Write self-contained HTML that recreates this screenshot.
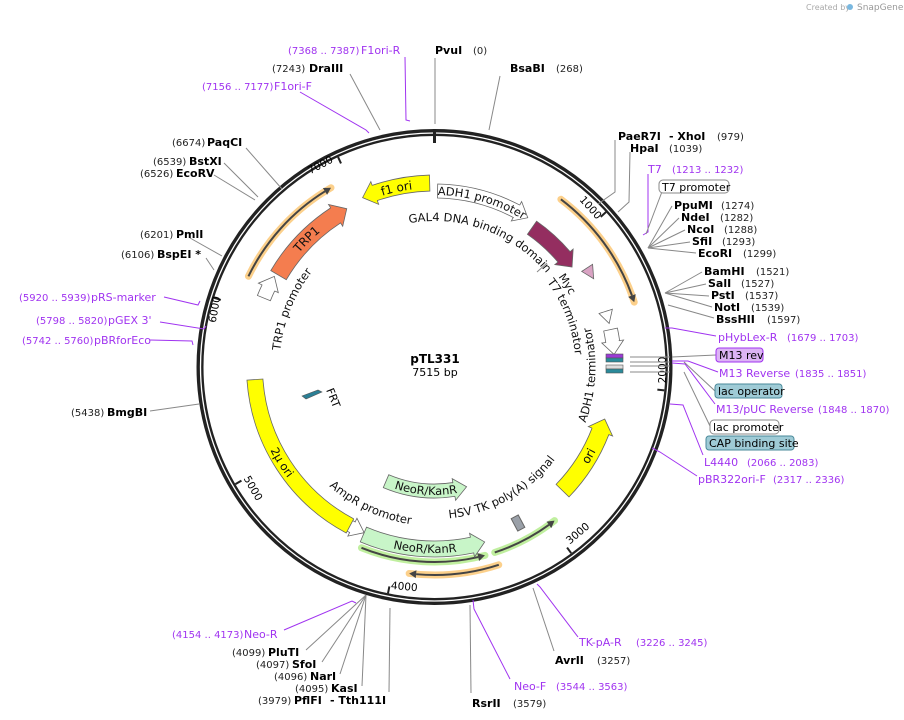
<!DOCTYPE html>
<html><head><meta charset="utf-8"><style>
body{margin:0;background:#fff;width:904px;height:720px;overflow:hidden}
svg{display:block;font-family:"DejaVu Sans","Liberation Sans",sans-serif}
.b{font-weight:bold;font-size:11px;fill:#000}
.n{font-size:10px;fill:#222}
.p{font-size:11px;fill:#a033f0}
.pn{font-size:10px;fill:#a033f0}
.f{font-size:11.5px;fill:#111}
.l{stroke:#888;stroke-width:1;fill:none}
.lp{stroke:#a033f0;stroke-width:1;fill:none}
</style></head><body>
<svg id="s" width="904" height="720" viewBox="0 0 904 720" xmlns="http://www.w3.org/2000/svg">
<defs id="d"></defs>
<text x="806" y="10" style="font-size:8px;fill:#aaa">Created by</text>
<text x="857" y="10" style="font-size:9px;fill:#999">SnapGene</text>
<circle cx="850" cy="7" r="3" fill="#7ab8e0"/>
<g id="g"></g>
<g>
<line class="l" x1="435" y1="58" x2="435" y2="124"/>
<line class="l" x1="500" y1="76" x2="489" y2="130"/>
<line class="l" x1="350" y1="74" x2="380" y2="130"/>
<polyline class="lp" points="405,57 406,120 410,121"/>
<polyline class="lp" points="300,92 366,130 369,133"/>
<line class="l" x1="246" y1="148" x2="282" y2="189"/>
<line class="l" x1="224" y1="163" x2="258" y2="197"/>
<line class="l" x1="214" y1="175" x2="255" y2="200"/>
<line class="l" x1="190" y1="238" x2="222" y2="256"/>
<line class="l" x1="206" y1="258" x2="214" y2="270"/>
<polyline class="lp" points="164,297 198,305 200,301"/>
<polyline class="lp" points="160,322 204,329 206,326"/>
<polyline class="lp" points="150,340 192,341 193,345"/>
<line class="l" x1="150" y1="411" x2="199" y2="404"/>
<polyline class="lp" points="284,630 352,601 356,603"/>
<line class="l" x1="306" y1="650" x2="366" y2="595"/>
<line class="l" x1="322" y1="662" x2="366" y2="595"/>
<line class="l" x1="340" y1="674" x2="366" y2="595"/>
<line class="l" x1="362" y1="686" x2="366" y2="595"/>
<line class="l" x1="389" y1="692" x2="390" y2="608"/>
<line class="l" x1="471" y1="693" x2="470" y2="605"/>
<polyline class="lp" points="510,679 474,609 473,600"/>
<line class="l" x1="554" y1="651" x2="533" y2="588"/>
<polyline class="lp" points="578,637 540,587 537,584"/>
<polyline class="l" points="615,140 615,192 598,204"/>
<polyline class="l" points="630,152 629,202 618,212"/>
<polyline class="lp" points="648,174 648,232 643,235"/>
<line class="l" x1="663" y1="189" x2="646" y2="234"/>
<line class="l" x1="672" y1="206" x2="648" y2="248"/>
<line class="l" x1="679" y1="218" x2="648" y2="248"/>
<line class="l" x1="685" y1="230" x2="648" y2="248"/>
<line class="l" x1="690" y1="242" x2="648" y2="248"/>
<line class="l" x1="696" y1="253" x2="648" y2="248"/>
<line class="l" x1="702" y1="272" x2="665" y2="293"/>
<line class="l" x1="706" y1="284" x2="665" y2="293"/>
<line class="l" x1="709" y1="296" x2="665" y2="293"/>
<line class="l" x1="712" y1="307" x2="665" y2="293"/>
<line class="l" x1="714" y1="318" x2="668" y2="305"/>
<polyline class="lp" points="716,336 672,328 665,328"/>
<line class="l" x1="716" y1="355" x2="672" y2="357"/>
<polyline class="lp" points="718,372 688,361 672,361"/>
<line class="l" x1="715" y1="391" x2="684" y2="362"/>
<polyline class="lp" points="715,404 685,364 672,363"/>
<line class="l" x1="710" y1="426" x2="684" y2="372"/>
<polyline class="lp" points="703,455 683,405 670,404"/>
<polyline class="lp" points="697,476 660,452 652,448"/>
<line class="l" x1="670" y1="357" x2="630" y2="357"/>
<line class="l" x1="670" y1="362" x2="630" y2="362"/>
<line class="l" x1="670" y1="366" x2="630" y2="366"/>
<line class="l" x1="670" y1="372" x2="630" y2="372"/>
</g>
<text x="288" y="54" class="pn">(7368 .. 7387)</text><text x="361" y="54" class="p">F1ori-R</text>
<text x="435" y="54" class="b">PvuI</text><text x="473" y="54" class="n">(0)</text>
<text x="272" y="72" class="n">(7243)</text><text x="309" y="72" class="b">DraIII</text>
<text x="510" y="72" class="b">BsaBI</text><text x="556" y="72" class="n">(268)</text>
<text x="202" y="90" class="pn">(7156 .. 7177)</text><text x="274" y="90" class="p">F1ori-F</text>
<text x="618" y="140" class="b">PaeR7I</text><text x="669" y="140" class="b">- XhoI</text><text x="717" y="140" class="n">(979)</text>
<text x="630" y="152" class="b">HpaI</text><text x="669" y="152" class="n">(1039)</text>
<text x="648" y="173" class="p">T7</text><text x="672" y="173" class="pn">(1213 .. 1232)</text>
<rect x="659" y="180" width="70" height="13" rx="4" fill="#fff" stroke="#888"/><text x="662" y="191" style="font-size:11px">T7 promoter</text>
<text x="674" y="209" class="b">PpuMI</text><text x="721" y="209" class="n">(1274)</text>
<text x="681" y="221" class="b">NdeI</text><text x="720" y="221" class="n">(1282)</text>
<text x="687" y="233" class="b">NcoI</text><text x="724" y="233" class="n">(1288)</text>
<text x="692" y="245" class="b">SfiI</text><text x="722" y="245" class="n">(1293)</text>
<text x="698" y="257" class="b">EcoRI</text><text x="743" y="257" class="n">(1299)</text>
<text x="704" y="275" class="b">BamHI</text><text x="756" y="275" class="n">(1521)</text>
<text x="708" y="287" class="b">SalI</text><text x="741" y="287" class="n">(1527)</text>
<text x="711" y="299" class="b">PstI</text><text x="745" y="299" class="n">(1537)</text>
<text x="714" y="311" class="b">NotI</text><text x="751" y="311" class="n">(1539)</text>
<text x="716" y="323" class="b">BssHII</text><text x="767" y="323" class="n">(1597)</text>
<text x="718" y="341" class="p">pHybLex-R</text><text x="787" y="341" class="pn">(1679 .. 1703)</text>
<rect x="716" y="348" width="47" height="14" rx="3" fill="#dcb4f4" stroke="#a033f0"/><text x="719" y="359" style="font-size:11px">M13 rev</text>
<text x="719" y="377" class="p">M13 Reverse</text><text x="795" y="377" class="pn">(1835 .. 1851)</text>
<rect x="715" y="384" width="67" height="14" rx="3" fill="#9fcbd6" stroke="#4a8a9a"/><text x="718" y="395" style="font-size:11px">lac operator</text>
<text x="716" y="413" class="p">M13/pUC Reverse</text><text x="818" y="413" class="pn">(1848 .. 1870)</text>
<rect x="710" y="420" width="69" height="14" rx="4" fill="#fff" stroke="#888"/><text x="713" y="431" style="font-size:11px">lac promoter</text>
<rect x="706" y="436" width="88" height="14" rx="3" fill="#9fcbd6" stroke="#4a8a9a"/><text x="709" y="447" style="font-size:11px">CAP binding site</text>
<text x="704" y="466" class="p">L4440</text><text x="747" y="466" class="pn">(2066 .. 2083)</text>
<text x="698" y="483" class="p">pBR322ori-F</text><text x="773" y="483" class="pn">(2317 .. 2336)</text>
<text x="172" y="146" class="n">(6674)</text><text x="207" y="146" class="b">PaqCI</text>
<text x="153" y="165" class="n">(6539)</text><text x="189" y="165" class="b">BstXI</text>
<text x="140" y="177" class="n">(6526)</text><text x="176" y="177" class="b">EcoRV</text>
<text x="140" y="238" class="n">(6201)</text><text x="176" y="238" class="b">PmlI</text>
<text x="121" y="258" class="n">(6106)</text><text x="157" y="258" class="b">BspEI *</text>
<text x="19" y="301" class="pn">(5920 .. 5939)</text><text x="91" y="301" class="p">pRS-marker</text>
<text x="36" y="324" class="pn">(5798 .. 5820)</text><text x="108" y="324" class="p">pGEX 3'</text>
<text x="22" y="344" class="pn">(5742 .. 5760)</text><text x="94" y="344" class="p">pBRforEco</text>
<text x="71" y="416" class="n">(5438)</text><text x="107" y="416" class="b">BmgBI</text>
<text x="172" y="638" class="pn">(4154 .. 4173)</text><text x="244" y="638" class="p">Neo-R</text>
<text x="232" y="656" class="n">(4099)</text><text x="268" y="656" class="b">PluTI</text>
<text x="256" y="668" class="n">(4097)</text><text x="292" y="668" class="b">SfoI</text>
<text x="274" y="680" class="n">(4096)</text><text x="310" y="680" class="b">NarI</text>
<text x="295" y="692" class="n">(4095)</text><text x="331" y="692" class="b">KasI</text>
<text x="258" y="704" class="n">(3979)</text><text x="294" y="704" class="b">PflFI</text><text x="330" y="704" class="b">- Tth111I</text>
<text x="472" y="707" class="b">RsrII</text><text x="513" y="707" class="n">(3579)</text>
<text x="514" y="690" class="p">Neo-F</text><text x="556" y="690" class="pn">(3544 .. 3563)</text>
<text x="555" y="664" class="b">AvrII</text><text x="597" y="664" class="n">(3257)</text>
<text x="579" y="646" class="p">TK-pA-R</text><text x="636" y="646" class="pn">(3226 .. 3245)</text>
<text x="435" y="363" text-anchor="middle" style="font-weight:bold;font-size:12px">pTL331</text>
<text x="435" y="376" text-anchor="middle" style="font-size:11px">7515 bp</text>
<text x="326" y="390" transform="rotate(68 326 390)" style="font-size:11px">FRT</text>
</svg>
<script>
const NS="http://www.w3.org/2000/svg",cx=434.5,cy=367,g=document.getElementById('g'),d=document.getElementById('d');
function P(r,a){const t=a*Math.PI/180;return [cx+r*Math.sin(t),cy-r*Math.cos(t)];}
function arc(r,a1,a2,m){const[x1,y1]=P(r,a1),[x2,y2]=P(r,a2);const la=Math.abs(a2-a1)>180?1:0,sw=a2>a1?1:0;return (m===false?'L':'M')+x1.toFixed(2)+' '+y1.toFixed(2)+' A'+r+' '+r+' 0 '+la+' '+sw+' '+x2.toFixed(2)+' '+y2.toFixed(2);}
function el(t,a,p){const e=document.createElementNS(NS,t);for(const k in a)e.setAttribute(k,a[k]);(p||g).appendChild(e);return e;}
function feat(r,a1,a2,w,fill,head){const s=a2>a1?1:-1;let hl=(head===false?0:13/r*180/Math.PI);if(hl>Math.abs(a2-a1))hl=Math.abs(a2-a1);const ah=a2-s*hl;const ro=r+w/2,ri=r-w/2;
let dd=arc(ro,a1,ah);if(hl>0){const a=P(ro+4,ah),b=P(r,a2),c=P(ri-4,ah);dd+=' L'+P(ro,ah)+' L'+a+' L'+b+' L'+c+' L'+P(ri,ah);}else dd+=' L'+P(ri,a2);
dd+=' '+arc(ri,ah,a1,false)+' Z';el('path',{d:dd,fill:fill,stroke:'#666','stroke-width':0.8});}
function primer(r,a1,a2,glow){const s=a2>a1?1:-1;el('path',{d:arc(r,a1,a2),stroke:glow,'stroke-width':7,fill:'none','stroke-linecap':'round',opacity:0.85});
const hl=7/r*180/Math.PI;el('path',{d:arc(r,a1,a2-s*hl),stroke:'#444','stroke-width':2,fill:'none'});
el('path',{d:'M'+P(r+4,a2-s*hl)+' L'+P(r,a2)+' L'+P(r-4,a2-s*hl)+' Z',fill:'#444'});}
let tid=0;function tp(txt,r,c,cw,size,bold){const id='t'+(tid++);const sp=70;el('path',{id:id,d:cw?arc(r,c-sp,c+sp):arc(r,c+sp,c-sp),fill:'none'},d);
const t=el('text',{style:'font-size:'+(size||11.5)+'px;'+(bold?'font-weight:bold;':''),fill:'#111'});const p=document.createElementNS(NS,'textPath');p.setAttribute('href','#'+id);p.setAttribute('startOffset','50%');p.setAttribute('text-anchor','middle');p.textContent=txt;t.appendChild(p);}
el('circle',{cx:cx,cy:cy,r:234.5,fill:'none',stroke:'#222','stroke-width':7});
el('circle',{cx:cx,cy:cy,r:234,fill:'none',stroke:'#fff','stroke-width':1.3});
const a0=P(238,0),a1=P(224,0);el('line',{x1:a0[0],y1:a0[1],x2:a1[0],y2:a1[1],stroke:'#222','stroke-width':3});
for(let k=1;k<=7;k++){const a=k*1000/7515*360,p1=P(231,a),p2=P(224,a);el('line',{x1:p1[0],y1:p1[1],x2:p2[0],y2:p2[1],stroke:'#222','stroke-width':2});}
const tpos=[[588,210,48],[666,370,-90],[580,536,-40],[404,590,5],[250,490,60],[218,310,-80],[322,168,-28]];
tpos.forEach((q,i)=>{const t=el('text',{x:q[0],y:q[1],'text-anchor':'middle',transform:'rotate('+q[2]+' '+q[0]+' '+q[1]+')',style:'font-size:10.5px'});t.textContent=(i+1)*1000;});
primer(207,-64,-30,'#fcc877');
primer(210,37,72,'#fcc877');
primer(195,202,165,'#b5ec8e');
primer(195,162,142,'#b5ec8e');
primer(208,162,187,'#fcc877');
feat(184,-1.5,-23,16,'#ffff00');
feat(176,1,32,14,'#fff');
feat(170,35,54,16,'#942e60');
feat(182,57,61,5,'#d9a3c3');
feat(180,72,76,6,'#fff');
feat(180,78,86,14,'#fff');
feat(178,134,107,18,'#ffff00');
feat(182,203,164,16,'#c8f5c8');
feat(180,209,203,12,'#fff');
feat(180,266,208,16,'#ffff00',false);
feat(124,203,165,14,'#c8f5c8');
feat(181,300.5,331,18,'#f47d4f');
feat(184,292,299.5,14,'#fff');
[[356,'#9b3ad6'],[360,'#2a8a9a'],[367,'#ddd'],[371,'#2a8a9a']].forEach(b=>el('rect',{x:606,y:b[0]-2,width:17,height:4,fill:b[1],stroke:'#555','stroke-width':0.6}));
el('rect',{x:514,y:516,width:8,height:14,fill:'#9aa0a8',stroke:'#666',transform:'rotate(-28 518 523)'});
el('path',{d:'M302 396 L318 390 L322 392 L306 399 Z',fill:'#2a7f95',stroke:'#555','stroke-width':0.6});
el('line',{x1:547,y1:263,x2:537,y2:272,stroke:'#888'});
tp('f1 ori',179,-12,true,12);
tp('ADH1 promoter',172,16,true,11.5);
tp('GAL4 DNA binding domain',146,20,true,11.5);
tp('TRP1',177,-45,true,12);
tp('TRP1 promoter',155,-68,true,11.5);
tp('2μ ori',184,238,false,11.5);
tp('AmpR promoter',159,205,false,11.5);
tp('NeoR/KanR',186,183,false,11.5);
tp('NeoR/KanR',128,184,false,11.5);
tp('HSV TK poly(A) signal',152,151,false,11.5);
tp('ori',182,120,false,12);
tp('ADH1 terminator',161,93,false,11.5);
tp('T7 terminator',141,69,true,11.5);
tp('Myc',153,58,true,11);
</script>
</body></html>
